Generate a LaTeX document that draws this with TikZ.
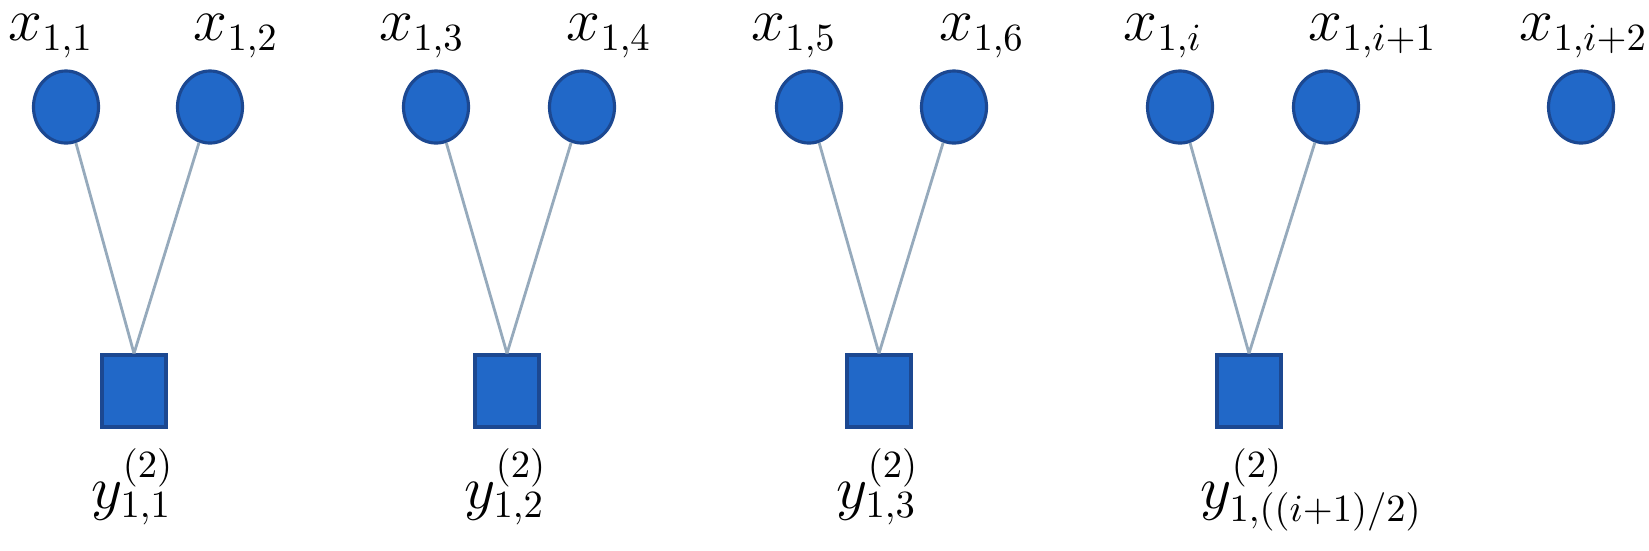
\documentclass[tikz,border=0pt]{standalone}
\usepackage{tikz}
\usetikzlibrary{positioning,shapes.geometric}
\definecolor{nodefill}{RGB}{33,104,200}
\definecolor{nodeedge}{RGB}{28,72,145}
\definecolor{linkgray}{RGB}{150,170,188}

\begin{document}
\begin{tikzpicture}[x=0.01cm,y=0.01cm,
		var/.style={ellipse,draw=nodeedge,fill=nodefill,line width=0.9pt,minimum width=0.65cm,minimum height=0.72cm,inner sep=0pt},
		fac/.style={rectangle,draw=nodeedge,fill=nodefill,line width=0.9pt,minimum width=0.64cm,minimum height=0.72cm,inner sep=0pt},
		lbl/.style={anchor=base west,inner sep=0pt,font=\fontsize{16}{19}\selectfont},
		link/.style={draw=linkgray,line width=0.8pt}]
	\useasboundingbox (0,0) rectangle (1649,550);

	\node[var] (x1) at (66,443) {};
	\node[var] (x2) at (210,443) {};
	\node[var] (x3) at (436,443) {};
	\node[var] (x4) at (582,443) {};
	\node[var] (x5) at (809,443) {};
	\node[var] (x6) at (954,443) {};
	\node[var] (xi) at (1180,443) {};
	\node[var] (xj) at (1326,443) {};
	\node[var] (xk) at (1581,443) {};

	\node[fac] (y1) at (134,159) {};
	\node[fac] (y2) at (507,159) {};
	\node[fac] (y3) at (879,159) {};
	\node[fac] (y4) at (1249,159) {};

	\node[lbl] (lx1) at ([xshift=-0.58cm,yshift=0.66cm]x1.center) {$x_{1,1}$};
	\node[lbl] (lx2) at ([xshift=-0.17cm,yshift=0.66cm]x2.center) {$x_{1,2}$};
	\node[lbl] (lx3) at ([xshift=-0.57cm,yshift=0.66cm]x3.center) {$x_{1,3}$};
	\node[lbl] (lx4) at ([xshift=-0.16cm,yshift=0.66cm]x4.center) {$x_{1,4}$};
	\node[lbl] (lx5) at ([xshift=-0.58cm,yshift=0.66cm]x5.center) {$x_{1,5}$};
	\node[lbl] (lx6) at ([xshift=-0.15cm,yshift=0.66cm]x6.center) {$x_{1,6}$};
	\node[lbl] (lxi) at ([xshift=-0.57cm,yshift=0.66cm]xi.center) {$x_{1,i}$};
	\node[lbl] (lxj) at ([xshift=-0.18cm,yshift=0.66cm]xj.center) {$x_{1,i+1}$};
	\node[lbl] (lxk) at ([xshift=-0.62cm,yshift=0.66cm]xk.center) {$x_{1,i+2}$};

	\node[lbl] (ly1) at ([xshift=-0.43cm,yshift=-1.17cm]y1.center) {$y^{(2)}_{1,1}$};
	\node[lbl] (ly2) at ([xshift=-0.43cm,yshift=-1.17cm]y2.center) {$y^{(2)}_{1,2}$};
	\node[lbl] (ly3) at ([xshift=-0.43cm,yshift=-1.17cm]y3.center) {$y^{(2)}_{1,3}$};
	\node[lbl] (ly4) at ([xshift=-0.49cm,yshift=-1.17cm]y4.center) {$y^{(2)}_{1,((i+1)/2)}$};

	\path[link]
	(x1) edge (y1.north)
	(x2) edge (y1.north)
	(x3) edge (y2.north)
	(x4) edge (y2.north)
	(x5) edge (y3.north)
	(x6) edge (y3.north)
	(xi) edge (y4.north)
	(xj) edge (y4.north);
\end{tikzpicture}
\end{document}
